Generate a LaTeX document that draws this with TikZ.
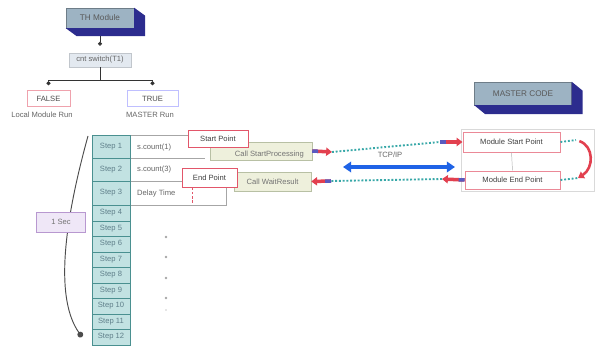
\documentclass[tikz,border=0pt]{standalone}
\usepackage{xcolor}
\usepackage{fontspec}
\setmainfont{Liberation Sans}
\usepackage{tikz}
\usetikzlibrary{shapes,arrows.meta,positioning,calc}

\definecolor{txtgray}{HTML}{666666}
\definecolor{modfill}{HTML}{9DB3C3}
\definecolor{navyside}{HTML}{2C2C8E}
\definecolor{switchfill}{HTML}{E3E9F0}
\definecolor{stepfill}{HTML}{C2E2E2}
\definecolor{stepborder}{HTML}{4A9090}
\definecolor{steptext}{HTML}{5F7F8A}
\definecolor{callfill}{HTML}{EEF0DC}
\definecolor{callborder}{HTML}{B8C0A4}
\definecolor{ptred}{HTML}{E2566A}
\definecolor{arrred}{HTML}{E2404F}
\definecolor{tailblue}{HTML}{5A5ABF}
\definecolor{dotteal}{HTML}{38A8A8}
\definecolor{tcpblue}{HTML}{1F63E6}
\definecolor{secfill}{HTML}{EFE7F7}
\definecolor{secborder}{HTML}{B898D0}

\begin{document}
\begin{tikzpicture}[
    x=0.03cm, y=-0.03cm,
    every node/.style={font=\fontsize{6.5}{7.5}\selectfont, text=txtgray},
    module/.style={rectangle, draw=modfill!70!black, fill=modfill, text=black!65, inner sep=0pt, font=\fontsize{7}{8}\selectfont},
    switchbox/.style={rectangle, fill=switchfill, draw=switchfill!85!black, text=black!60, inner sep=0pt},
    choice/.style={rectangle, fill=white, thick, minimum height=0.48cm, text=black!70, inner sep=0pt},
    stepcell/.style={rectangle, draw=stepborder, fill=stepfill, minimum width=1.14cm, text=steptext, inner sep=0pt},
    rowbox/.style={rectangle, draw=gray!70, fill=white, inner sep=0pt},
    notetext/.style={anchor=west, inner sep=0pt},
    callbox/.style={rectangle, draw=callborder, fill=callfill, inner sep=0pt, text=black!55},
    pointbox/.style={rectangle, draw=ptred, thick, fill=white, inner sep=0pt, text=black!75},
    modpoint/.style={rectangle, draw=ptred!70, thick, fill=white, inner sep=0pt, text=black!75},
    secbox/.style={rectangle, draw=secborder, thick, fill=secfill, minimum width=1.47cm, minimum height=0.6cm, text=black!55},
    dotend/.style={-{Circle[length=3.5pt]}, shorten >=4pt, draw=black!80},
    blockarrow/.style={line width=3pt, draw=arrred, -{Triangle[length=5pt, width=7pt]},
        postaction={draw=tailblue, -, line width=3pt, dash pattern=on 5pt off 200pt}},
    dotline/.style={draw=dotteal, line width=1.6pt, dash pattern=on 1.6pt off 1.6pt},
    tcparrow/.style={line width=2.6pt, draw=tcpblue, {Triangle[length=7pt, width=9pt]}-{Triangle[length=7pt, width=9pt]}}
]
\useasboundingbox (0,0) rectangle (596,347);

% TH module (top left)
\node[module, minimum width=2.04cm, minimum height=0.6cm] (th) at (100,18) {TH Module};
\fill[navyside] (th.north east) -- ++(11,8) -- ($(th.south east)+(11,8)$) -- ($(th.south west)+(11,8)$) -- (th.south west) -- (th.south east) -- cycle;

% Switch
\node[switchbox, minimum width=1.86cm, minimum height=0.42cm] (sw) at (100,60) {cnt switch(T1)};

% Branches
\node[choice, draw=ptred!55, minimum width=1.29cm] (fbox) at (48.5,98.5) {FALSE};
\node[choice, draw=blue!25, minimum width=1.53cm] (tbox) at (152.5,98.5) {TRUE};
\node (localrun) at (42,115) {Local Module Run};
\node (masterrun) at (150,115) {MASTER Run};

\coordinate (split) at (100,80);
\draw[dotend, shorten >=6pt] ($(th.south)+(0,8)$) -- (sw.north);
\draw[black!80] (sw.south) -- (split);
\draw[dotend] (split) -| (fbox.north);
\draw[dotend] (split) -| (tbox.north);

% 1 Sec curve
\coordinate (sectop) at (88,136);
\coordinate (secend) at (82,337);
\draw[black!70, thick, -{Circle[length=5pt]}] (sectop) .. controls (62,230) and (56,300) .. (secend);
\node[secbox] (sec) at (61,222) {1 Sec};

% Step rows extension
\draw[gray!70] (130,135) -- (205,135);
\draw[gray!70] (130,158) -- (205,158);
\node[rowbox, anchor=north west, minimum width=2.88cm, minimum height=0.72cm] (row3) at (130,181) {};
\node[notetext] (note1) at (137,148) {s.count(1)};
\node[notetext] (note2) at (137,170) {s.count(3)};
\node[notetext] (note3) at (137,194) {Delay Time};

% Step table
\node[stepcell, minimum height=0.69cm] (step1) at (111,146.5) {Step 1};
\node[stepcell, minimum height=0.69cm] (step2) at (111,169.5) {Step 2};
\node[stepcell, minimum height=0.72cm] (step3) at (111,193) {Step 3};
\node[stepcell, minimum height=0.465cm] (step4) at (111,213) {Step 4};
\node[stepcell, minimum height=0.465cm] (step5) at (111,228.5) {Step 5};
\node[stepcell, minimum height=0.465cm] (step6) at (111,244) {Step 6};
\node[stepcell, minimum height=0.465cm] (step7) at (111,259.5) {Step 7};
\node[stepcell, minimum height=0.465cm] (step8) at (111,275) {Step 8};
\node[stepcell, minimum height=0.465cm] (step9) at (111,290.5) {Step 9};
\node[stepcell, minimum height=0.465cm] (step10) at (111,306) {Step 10};
\node[stepcell, minimum height=0.465cm] (step11) at (111,321.5) {Step 11};
\node[stepcell, minimum height=0.465cm] (step12) at (111,337) {Step 12};

% Continuation dots
\fill[gray!70] (166,237) circle (1.4);
\fill[gray!70] (166,257) circle (1.4);
\fill[gray!70] (166,278) circle (1.4);
\fill[gray!70] (166,298) circle (1.4);
\fill[gray!40] (166,310) circle (0.9);

% Calls and points (local side)
\node[callbox, minimum width=3.06cm, minimum height=0.54cm] (startcall) at (261,151) {\hspace*{0.5cm}\raisebox{-4.5pt}[0pt][0pt]{Call StartProcessing}};
\node[callbox, minimum width=2.31cm, minimum height=0.57cm] (waitcall) at (272.5,181.5) {Call WaitResult};
\node[pointbox, minimum width=1.8cm, minimum height=0.51cm] (startpt) at (218,138.5) {Start Point};
\node[pointbox, minimum width=1.65cm, minimum height=0.57cm] (endpt) at (209.5,177.5) {End Point};
\draw[ptred, thick, dash pattern=on 2pt off 1.5pt] (192,188) -- (192,204);

% Master code (right)
\draw[gray!30] (461,129) rectangle (594,191);
\node[module, minimum width=2.91cm, minimum height=0.69cm] (master) at (523,93.5) {MASTER CODE};
\fill[navyside] (master.north east) -- ++(11,9) -- ($(master.south east)+(11,9)$) -- ($(master.south west)+(11,9)$) -- (master.south west) -- (master.south east) -- cycle;
\node[modpoint, minimum width=2.91cm, minimum height=0.6cm] (modstart) at (511.5,142) {Module Start Point};
\node[modpoint, minimum width=2.85cm, minimum height=0.54cm] (modend) at (512.5,180) {Module End Point};
\draw[gray!60] (modstart.south) -- (modend.north);

% Links between local and master
\coordinate (sa) at (332,152);
\coordinate (sb) at (440,142);
\coordinate (eb) at (442,179);
\coordinate (ea) at (331,181);
\draw[blockarrow] (startcall.east) -- (sa);
\draw[dotline] (sa) -- (sb);
\draw[blockarrow] (sb) -- (modstart.west);
\draw[blockarrow] (modend.west) -- (eb);
\draw[dotline] (eb) -- (ea);
\draw[blockarrow] (ea) -- (waitcall.east);

% TCP/IP
\coordinate (tcpl) at (343,167);
\coordinate (tcpr) at (455,167);
\draw[tcparrow] (tcpl) -- node[pos=0.42, above=3pt] (tcp) {TCP/IP} (tcpr);

% Loop back on master side
\coordinate (ca) at (576,140);
\coordinate (cb) at (578,178);
\draw[dotline] (modstart.east) -- (ca);
\draw[dotline] (modend.east) -- (cb);
\draw[line width=2.2pt, draw=arrred, shorten <=3pt, -{Triangle[length=5pt, width=6.5pt]}] (ca) .. controls (594,146) and (594,168) .. (cb);

\end{tikzpicture}
\end{document}
